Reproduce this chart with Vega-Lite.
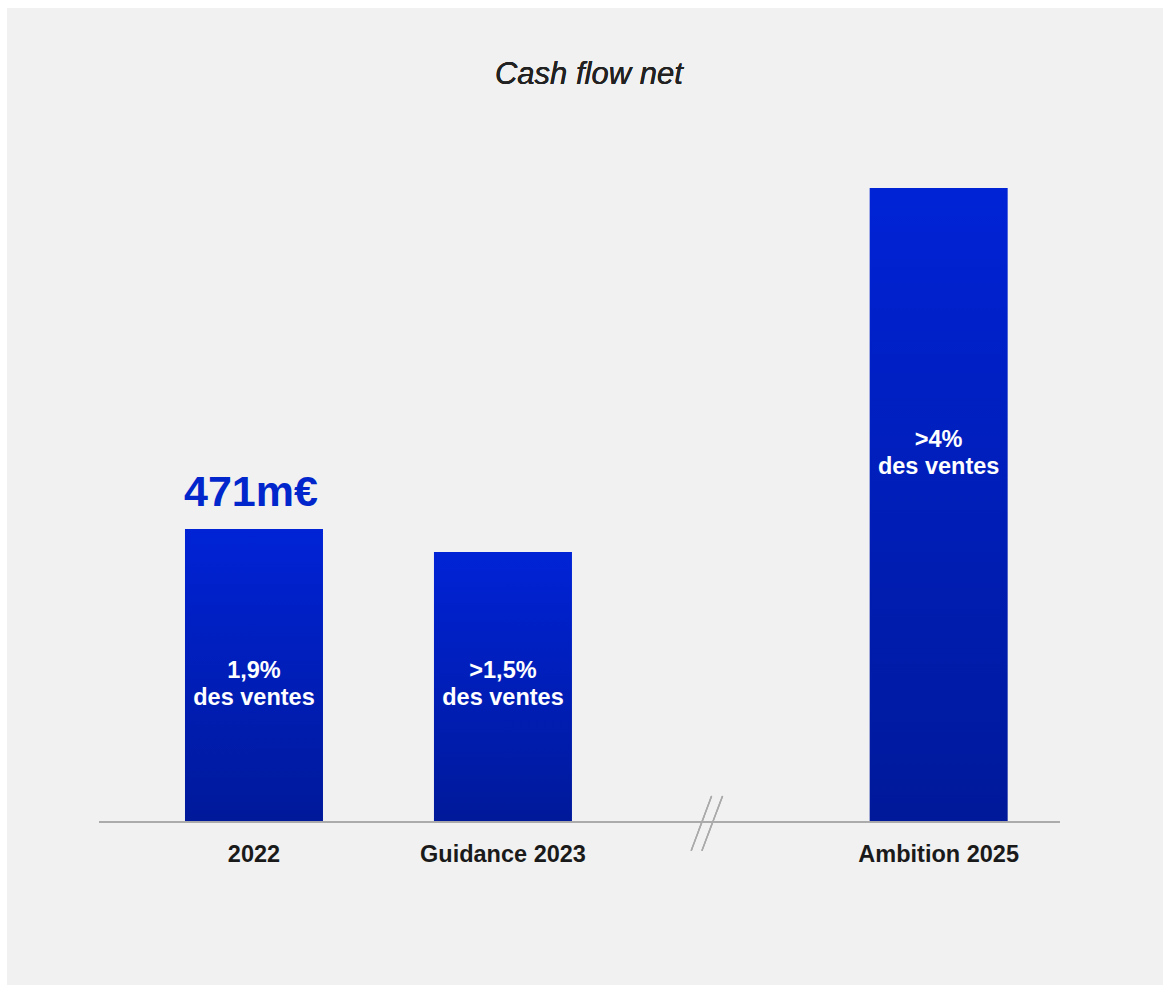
{
  "$schema": "https://vega.github.io/schema/vega-lite/v6.json",
  "width": 1163,
  "height": 985,
  "autosize": {"type": "fit", "contains": "padding"},
  "padding": {"left": 7, "top": 8, "right": 0, "bottom": 0},
  "background": "#ffffff",
  "config": {
    "view": {"fill": "#f1f1f1", "stroke": null},
    "font": "Liberation Sans"
  },
  "data": {
    "values": [
      {"label": "2022", "slot": 0, "value": 471, "share": "1,9%\ndes ventes", "amount": "471m€"},
      {"label": "Guidance 2023", "slot": 1, "value": 434, "share": ">1,5%\ndes ventes", "amount": ""},
      {"label": "Ambition 2025", "slot": 2.75, "value": 1019, "share": ">4%\ndes ventes", "amount": ""}
    ]
  },
  "layer": [
    {
      "mark": {
        "type": "bar",
        "width": 138,
        "color": {
          "gradient": "linear",
          "x1": 0, "y1": 0, "x2": 0, "y2": 1,
          "stops": [
            {"offset": 0, "color": "#0023d6"},
            {"offset": 1, "color": "#00199a"}
          ]
        }
      },
      "encoding": {
        "x": {"field": "slot", "type": "quantitative", "axis": null, "scale": {"domain": [-0.992, 3.651], "nice": false, "zero": false, "padding": 0}},
        "y": {"field": "value", "type": "quantitative", "axis": null, "scale": {"domain": [-262, 1308.5], "nice": false, "zero": false}},
        "y2": {"datum": 0},
        "tooltip": [{"field": "label"}, {"field": "value"}]
      }
    },
    {
      "mark": {"type": "rule", "color": "#aaaaaa", "strokeWidth": 1.5},
      "encoding": {
        "x": {"datum": -0.6225, "type": "quantitative", "scale": {"domain": [-0.992, 3.651], "nice": false, "zero": false, "padding": 0}},
        "x2": {"datum": 3.237},
        "y": {"datum": 0, "type": "quantitative", "scale": {"domain": [-262, 1308.5], "nice": false, "zero": false}}
      }
    },
    {
      "mark": {"type": "rule", "color": "#aaaaaa", "strokeWidth": 1.3},
      "encoding": {
        "x": {"datum": 1.838, "type": "quantitative", "scale": {"domain": [-0.992, 3.651], "nice": false, "zero": false, "padding": 0}},
        "x2": {"datum": 1.756},
        "y": {"datum": 41.8, "type": "quantitative", "scale": {"domain": [-262, 1308.5], "nice": false, "zero": false}},
        "y2": {"datum": -46.1}
      }
    },
    {
      "mark": {"type": "rule", "color": "#aaaaaa", "strokeWidth": 1.3},
      "encoding": {
        "x": {"datum": 1.882, "type": "quantitative", "scale": {"domain": [-0.992, 3.651], "nice": false, "zero": false, "padding": 0}},
        "x2": {"datum": 1.799},
        "y": {"datum": 41.8, "type": "quantitative", "scale": {"domain": [-262, 1308.5], "nice": false, "zero": false}},
        "y2": {"datum": -46.1}
      }
    },
    {
      "mark": {"type": "text", "font": "Liberation Sans", "fontSize": 31, "fontStyle": "italic", "color": "#222222", "align": "center", "baseline": "alphabetic"},
      "encoding": {
        "x": {"datum": 1.345, "type": "quantitative", "scale": {"domain": [-0.992, 3.651], "nice": false, "zero": false, "padding": 0}},
        "y": {"datum": 1186, "type": "quantitative", "scale": {"domain": [-262, 1308.5], "nice": false, "zero": false}},
        "text": {"value": "Cash flow net"}
      }
    },
    {
      "mark": {"type": "text", "font": "Liberation Sans", "fontSize": 43, "fontWeight": "bold", "color": "#0026cc", "align": "center", "baseline": "alphabetic", "dy": -23, "dx": -3},
      "encoding": {
        "x": {"field": "slot", "type": "quantitative", "scale": {"domain": [-0.992, 3.651], "nice": false, "zero": false, "padding": 0}},
        "y": {"field": "value", "type": "quantitative", "scale": {"domain": [-262, 1308.5], "nice": false, "zero": false}},
        "text": {"field": "amount"}
      }
    },
    {
      "transform": [{"filter": "datum.slot < 2"}],
      "mark": {"type": "text", "font": "Liberation Sans", "fontSize": 23.5, "fontWeight": "bold", "color": "#ffffff", "align": "center", "baseline": "alphabetic", "lineBreak": "\n", "lineHeight": 27},
      "encoding": {
        "x": {"field": "slot", "type": "quantitative", "scale": {"domain": [-0.992, 3.651], "nice": false, "zero": false, "padding": 0}},
        "y": {"datum": 231.5, "type": "quantitative", "scale": {"domain": [-262, 1308.5], "nice": false, "zero": false}},
        "text": {"field": "share"}
      }
    },
    {
      "transform": [{"filter": "datum.slot >= 2"}],
      "mark": {"type": "text", "font": "Liberation Sans", "fontSize": 23.5, "fontWeight": "bold", "color": "#ffffff", "align": "center", "baseline": "alphabetic", "lineBreak": "\n", "lineHeight": 27},
      "encoding": {
        "x": {"field": "slot", "type": "quantitative", "scale": {"domain": [-0.992, 3.651], "nice": false, "zero": false, "padding": 0}},
        "y": {"datum": 602.8, "type": "quantitative", "scale": {"domain": [-262, 1308.5], "nice": false, "zero": false}},
        "text": {"field": "share"}
      }
    },
    {
      "mark": {"type": "text", "font": "Liberation Sans", "fontSize": 23.5, "fontWeight": "bold", "color": "#1a1a1a", "align": "center", "baseline": "alphabetic"},
      "encoding": {
        "x": {"field": "slot", "type": "quantitative", "scale": {"domain": [-0.992, 3.651], "nice": false, "zero": false, "padding": 0}},
        "y": {"datum": -64.3, "type": "quantitative", "scale": {"domain": [-262, 1308.5], "nice": false, "zero": false}},
        "text": {"field": "label"}
      }
    }
  ]
}
